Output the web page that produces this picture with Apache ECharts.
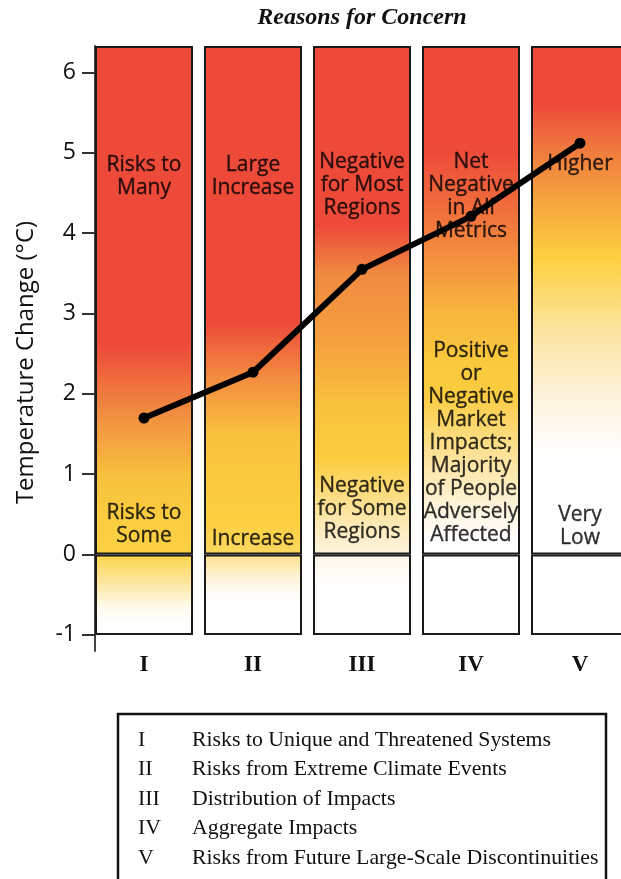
<!DOCTYPE html>
<html><head><meta charset="utf-8">
<script src="https://cdn.jsdelivr.net/npm/echarts@6/dist/echarts.min.js"></script>
<style>html,body{margin:0;padding:0;background:#fff}#c{width:621px;height:879px}</style>
</head><body><div id="c"></div>
<script>
// ---------- data ----------
const categories = ['I', 'II', 'III', 'IV', 'V'];
const tempValues = [1.7, 2.27, 3.55, 4.21, 5.12];
const columnTop = [6.33, 6.33, 6.33, 6.33, 6.33];
const columnBottom = [-1, -1, -1, -1, -1];
const yTicks = [-1, 0, 1, 2, 3, 4, 5, 6];
const upperTexts = ['Risks to\nMany', 'Large\nIncrease', 'Negative\nfor Most\nRegions', 'Net\nNegative\nin All\nMetrics', 'Higher'];
const upperTextAt = [4.71, 4.71, 4.60, 4.46, 4.86];
const lowerTexts = ['Risks to\nSome', 'Increase', 'Negative\nfor Some\nRegions', 'Positive\nor\nNegative\nMarket\nImpacts;\nMajority\nof People\nAdversely\nAffected', 'Very\nLow'];
const lowerTextAt = [0.38, 0.20, 0.57, 1.39, 0.35];
const legendNames = ['Risks to Unique and Threatened Systems', 'Risks from Extreme Climate Events', 'Distribution of Impacts', 'Aggregate Impacts', 'Risks from Future Large-Scale Discontinuities'];
const chartTitle = 'Reasons for Concern';
const yName = 'Temperature Change (°C)';

// ---------- styles ----------
const RED = '#ed4a3a';
const upperStops = [
  [[0, RED], [0.59, RED], [0.716, '#f08a40'], [0.842, '#f8c03e'], [0.93, '#fbcd40'], [1, '#fbd142']],
  [[0, RED], [0.542, RED], [0.652, '#f28c3f'], [0.763, '#f9c23d'], [0.937, '#fbcf40'], [1, '#fcd862']],
  [[0, RED], [0.352, RED], [0.447, '#f08a40'], [0.58, '#f5a03e'], [0.71, '#f9c33d'], [0.81, '#fbcd3e'], [0.94, '#fde9b5'], [1, '#fef5e2']],
  [[0, RED], [0.204, RED], [0.316, '#f06d3c'], [0.415, '#f38f3e'], [0.513, '#f7b23e'], [0.613, '#fac83d'], [0.684, '#fbcc40'], [0.81, '#fde39c'], [0.908, '#fef4dc'], [0.97, '#ffffff'], [1, '#ffffff']],
  [[0, RED], [0.115, RED], [0.21, '#f07d3e'], [0.305, '#f5a53e'], [0.415, '#fcd03f'], [0.558, '#fce49f'], [0.7, '#fef4e0'], [0.81, '#ffffff'], [1, '#ffffff']]
];
const lowerStops = [
  [[0, '#fbd347'], [0.35, '#fde7a0'], [0.65, '#fff9ec'], [0.85, '#ffffff'], [1, '#ffffff']],
  [[0, '#fde08a'], [0.25, '#fef1cf'], [0.45, '#fffbf3'], [0.6, '#ffffff'], [1, '#ffffff']],
  [[0, '#fef6e6'], [0.4, '#ffffff'], [1, '#ffffff']],
  [[0, '#ffffff'], [1, '#ffffff']],
  [[0, '#ffffff'], [1, '#ffffff']]
];
const sans = '"Open Sans", sans-serif';
const serif = '"Liberation Serif", "Times New Roman", serif';
const grad = stops => new echarts.graphic.LinearGradient(0, 0, 0, 1, stops.map(s => ({ offset: s[0], color: s[1] })));

const chart = echarts.init(document.getElementById('c'), null, { renderer: 'canvas' });

const textLabel = {
  show: true, position: 'inside', formatter: p => p.data[2],
  fontFamily: sans, fontSize: 21, lineHeight: 23, color: '#000', align: 'center', verticalAlign: 'middle',
  textBorderColor: '#000', textBorderWidth: 0.35
};

const legendGraphics = [{
  type: 'rect', shape: { x: 118, y: 714, width: 488, height: 200 },
  style: { fill: '#fff', stroke: '#111', lineWidth: 2.5 }
}];
legendNames.forEach((n, i) => {
  const y = 740 + i * 29.5;
  legendGraphics.push({ type: 'text', x: 138, y: y, style: { text: categories[i], font: '21.8px ' + serif, fill: '#111', align: 'left', verticalAlign: 'middle', textAlign: 'left', textVerticalAlign: 'middle' } });
  legendGraphics.push({ type: 'text', x: 192, y: y, style: { text: n, font: '21.8px ' + serif, fill: '#111', align: 'left', verticalAlign: 'middle', textAlign: 'left', textVerticalAlign: 'middle' } });
});

const option = {
  animation: false,
  backgroundColor: '#fff',
  grid: { left: 89.5, width: 545, top: 46, bottom: 228, outerBoundsMode: 'none', containLabel: false },
  xAxis: {
    type: 'category', data: categories,
    axisLine: { show: false }, axisTick: { show: false },
    axisLabel: { fontFamily: serif, fontWeight: 'bold', fontSize: 23, color: '#111', margin: 3 }
  },
  yAxis: {
    type: 'value', min: -1.2, max: 6.33, offset: -5.5,
    splitLine: { show: false },
    axisLine: { show: true, lineStyle: { color: '#444', width: 2 } },
    axisTick: { show: true, length: 13, lineStyle: { color: '#333', width: 2 }, customValues: yTicks },
    axisLabel: { customValues: yTicks, fontFamily: sans, fontSize: 23, color: '#111', margin: 19 },
    name: yName, nameLocation: 'middle', nameGap: 57,
    nameTextStyle: { fontFamily: sans, fontSize: 24, color: '#111', padding: [0, 28, 0, 0] }
  },
  graphic: [
    { type: 'text', x: 362, y: 18, style: { text: chartTitle, font: 'italic bold 24px ' + serif, fill: '#111', align: 'center', verticalAlign: 'middle', textAlign: 'center', textVerticalAlign: 'middle' } }
  ].concat(legendGraphics),
  series: [
    {
      type: 'bar', stack: 'col', barWidth: 98, silent: true,
      itemStyle: { borderColor: '#1a1a1a', borderWidth: 2 },
      data: columnTop.map((v, i) => ({ value: v, itemStyle: { color: grad(upperStops[i]) } }))
    },
    {
      type: 'bar', stack: 'col', barWidth: 98, silent: true,
      itemStyle: { borderColor: '#1a1a1a', borderWidth: 2 },
      data: columnBottom.map((v, i) => ({ value: v, itemStyle: { color: grad(lowerStops[i]) } }))
    },
    {
      type: 'scatter', symbolSize: 1, silent: true, itemStyle: { color: 'rgba(0,0,0,0)' },
      label: textLabel,
      data: categories.map((c, i) => [c, upperTextAt[i], upperTexts[i]])
    },
    {
      type: 'scatter', symbolSize: 1, silent: true, itemStyle: { color: 'rgba(0,0,0,0)' },
      label: textLabel,
      data: categories.map((c, i) => [c, lowerTextAt[i], lowerTexts[i]])
    },
    {
      type: 'line', data: tempValues, symbol: 'circle', symbolSize: 11, silent: true, z: 5,
      lineStyle: { color: '#000', width: 6 }, itemStyle: { color: '#000' }
    }
  ]
};
chart.setOption(option);
</script>
</body></html>
